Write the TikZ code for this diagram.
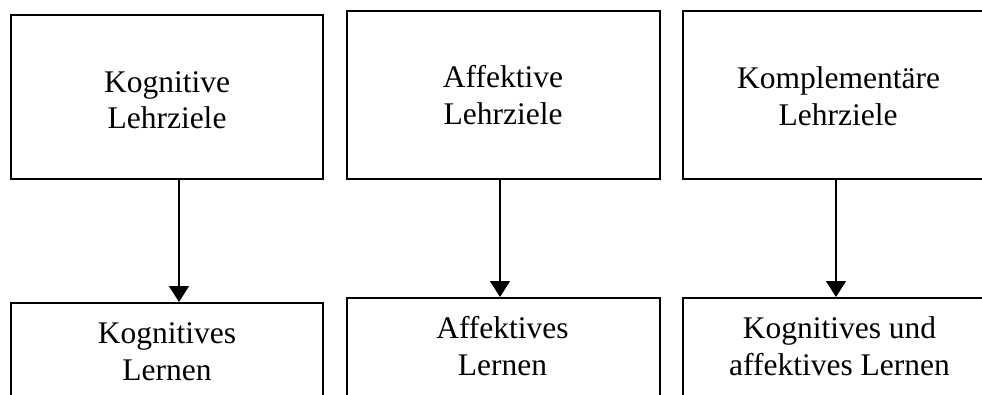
\documentclass[tikz,border=0pt]{standalone}
\usepackage{fontspec}
\setmainfont{Liberation Serif}
\usetikzlibrary{arrows.meta}
\begin{document}
\begin{tikzpicture}[x=1pt,y=-1pt,
  box/.style={draw=black,line width=2pt,inner sep=0pt,rectangle},
  txt/.style={anchor=base,inner sep=0pt,font=\fontsize{31.5}{36}\selectfont},
  arr/.style={line width=1.5pt,-{Triangle[width=20pt,length=16pt]}}]
\useasboundingbox (0,0) rectangle (982,394);
\clip (0,0) rectangle (982,394);
% top boxes
\node[box,minimum width=312pt,minimum height=164pt] (t1) at (167,97) {};
\node[box,minimum width=313pt,minimum height=168pt] (t2) at (503.5,95) {};
\node[box,minimum width=310pt,minimum height=168pt] (t3) at (838,95) {};
% bottom boxes
\node[box,minimum width=312pt,minimum height=120pt] (b1) at (167,363) {};
\node[box,minimum width=313pt,minimum height=125pt] (b2) at (503.5,360.5) {};
\node[box,minimum width=310pt,minimum height=125pt] (b3) at (838,360.5) {};
% texts
\node[txt] (t1a) at (167,92) {Kognitive};
\node[txt] (t1b) at (167,128) {Lehrziele};
\node[txt] (t2a) at (503,87) {Affektive};
\node[txt] (t2b) at (503,124) {Lehrziele};
\node[txt] (t3a) at (838.5,88) {Komplementäre};
\node[txt] (t3b) at (838,125) {Lehrziele};
\node[txt] (b1a) at (167,343) {Kognitives};
\node[txt] (b1b) at (167,380) {Lernen};
\node[txt] (b2a) at (502.5,338) {Affektives};
\node[txt] (b2b) at (502.5,375) {Lernen};
\node[txt] (b3a) at (839.5,338) {Kognitives und};
\node[txt] (b3b) at (839.5,375) {affektives Lernen};
% arrows
\draw[arr] ([xshift=12pt]t1.south) -- ([xshift=12pt]b1.north);
\draw[arr] ([xshift=-3.5pt]t2.south) -- ([xshift=-3.5pt]b2.north);
\draw[arr] ([xshift=-2pt]t3.south) -- ([xshift=-2pt]b3.north);
\end{tikzpicture}
\end{document}
